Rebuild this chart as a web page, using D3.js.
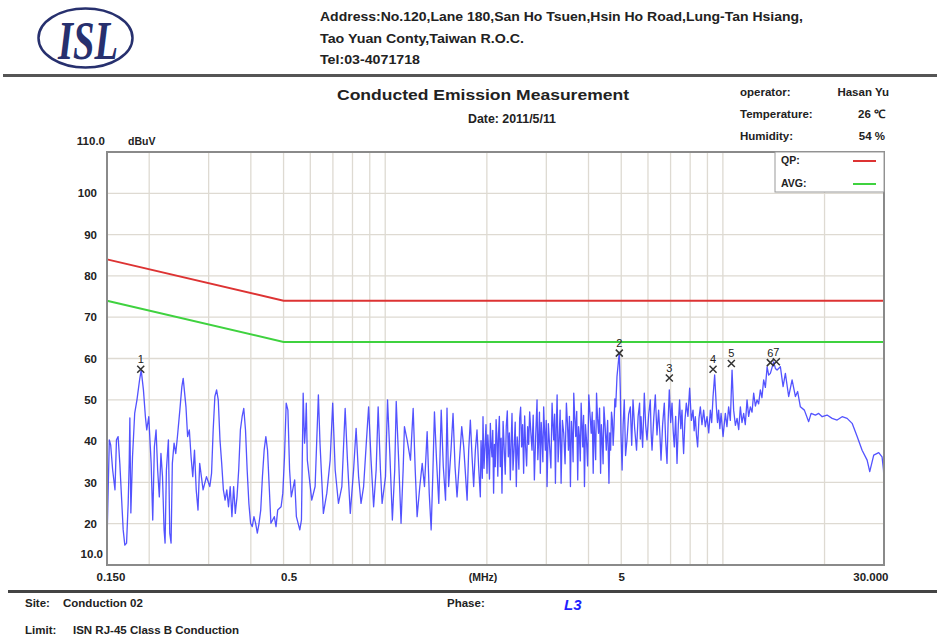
<!DOCTYPE html>
<html>
<head>
<meta charset="utf-8">
<script src="https://cdn.jsdelivr.net/npm/d3@7"></script>
<style>
  body { margin: 0; background: #fff; }
  svg text { font-family: "Liberation Sans", Arial, sans-serif; fill: #222; }
</style>
</head>
<body>
<svg id="chart" width="937" height="639"></svg>
<script>
// header / footer texts
const addressLines = [
    "Address:No.120,Lane 180,San Ho Tsuen,Hsin Ho Road,Lung-Tan Hsiang,",
    "Tao Yuan Conty,Taiwan R.O.C.",
    "Tel:03-4071718",
];
const infoLabels = ["operator:", "Temperature:", "Humidity:"];
const infoValues = ["Hasan Yu", "26 \u2103", "54 %"];

// axes
const yTicks = [20, 30, 40, 50, 60, 70, 80, 90, 100];
const gridFreqs = [0.2, 0.3, 0.4, 0.5, 0.6, 0.7, 0.8, 0.9, 1, 2, 3, 4, 5, 6, 7, 8, 9, 10, 20];
const xTickFreqs = [0.15, 0.5, 5, 30];
const xTickLabels = ["0.150", "0.5", "5", "30.000"];

// limit lines (MHz, dBuV)
const limitFreq = [0.15, 0.5, 30];
const qpLimit = [84, 74, 74];
const avgLimit = [74, 64, 64];

// markers
const markerIds = ["1", "2", "3", "4", "5", "6", "7"];
const markerFreq = [0.1888, 4.934, 6.94, 9.351, 10.594, 13.82, 14.4];
const markerLevel = [57.4, 61.3, 55.3, 57.4, 58.8, 59.0, 59.2];

const tracePoints = [
    [0.150, 15.6], [0.1524, 40.3], [0.1538, 39.1], [0.1559, 33.0], [0.1584, 28.2],
    [0.1600, 40.3], [0.1618, 41.1], [0.1637, 34.6], [0.1656, 26.5], [0.1675, 18.5],
    [0.1694, 14.8], [0.1714, 15.3], [0.1733, 24.9], [0.1745, 34.7], [0.1753, 45.6],
    [0.1765, 22.6], [0.1785, 36.2], [0.1812, 46.8], [0.1840, 50.0], [0.1873, 54.8],
    [0.1894, 57.2], [0.1923, 52.4], [0.1949, 45.9], [0.1967, 42.7], [0.1994, 45.9],
    [0.2027, 34.6], [0.2049, 20.9], [0.2072, 38.6], [0.2096, 42.7], [0.2119, 33.0],
    [0.2143, 26.5], [0.2167, 37.0], [0.2190, 31.4], [0.2214, 18.5], [0.2229, 15.3],
    [0.2249, 33.0], [0.2280, 40.3], [0.2301, 17.7], [0.2322, 15.3], [0.2342, 34.6],
    [0.2370, 39.5], [0.2397, 37.0], [0.2425, 41.1], [0.2465, 47.5], [0.2499, 53.2],
    [0.2522, 55.2], [0.2570, 48.3], [0.2599, 41.1], [0.2630, 42.7], [0.2661, 36.2],
    [0.2692, 31.4], [0.2724, 37.8], [0.2756, 28.2], [0.2790, 23.3], [0.2822, 34.6],
    [0.2855, 31.4], [0.2888, 28.2], [0.2956, 31.4], [0.3024, 29.0], [0.3060, 32.2],
    [0.3094, 42.7], [0.3130, 50.8], [0.3167, 52.4], [0.3203, 50.0], [0.3241, 40.3],
    [0.3279, 34.6], [0.3317, 28.2], [0.3356, 25.7], [0.3395, 28.2], [0.3435, 24.1],
    [0.3475, 29.0], [0.3516, 21.7], [0.3557, 29.0], [0.3598, 22.5], [0.3640, 26.5],
    [0.3682, 33.0], [0.3725, 42.7], [0.3769, 45.9], [0.3812, 47.9], [0.3857, 42.7],
    [0.3901, 33.0], [0.3947, 24.9], [0.3993, 20.1], [0.4039, 19.3], [0.4086, 21.7],
    [0.4133, 20.1], [0.4181, 17.7], [0.4230, 20.1], [0.4279, 23.3], [0.4329, 31.4],
    [0.4380, 37.8], [0.4431, 41.1], [0.4482, 37.8], [0.4534, 29.0], [0.4587, 20.1],
    [0.4694, 21.7], [0.4749, 19.3], [0.4804, 23.3], [0.4917, 24.1], [0.4974, 27.4],
    [0.5032, 36.2], [0.5091, 49.2], [0.5150, 47.5], [0.5210, 33.0], [0.5271, 26.5],
    [0.5394, 30.6], [0.5457, 21.7], [0.5585, 18.5], [0.5649, 20.9], [0.5715, 51.6],
    [0.5770, 39.5], [0.5810, 43.5], [0.5838, 49.2], [0.5880, 35.4], [0.6060, 25.7],
    [0.6200, 29.0], [0.6340, 51.2], [0.6410, 39.5], [0.6560, 22.5], [0.6715, 27.4],
    [0.687, 35.4], [0.699, 49.2], [0.711, 33.0], [0.727, 24.9], [0.744, 29.0],
    [0.761, 47.9], [0.773, 35.4], [0.788, 22.5], [0.806, 33.0], [0.820, 43.1],
    [0.834, 31.4], [0.848, 24.9], [0.863, 29.0], [0.879, 39.5], [0.893, 48.3],
    [0.908, 35.4], [0.924, 24.1], [0.940, 33.0], [0.953, 48.3], [0.968, 33.0],
    [0.979, 24.9], [1.002, 31.4], [1.016, 50.0], [1.032, 37.0], [1.050, 20.9],
    [1.067, 33.0], [1.078, 49.6], [1.096, 35.4], [1.114, 20.1], [1.130, 33.0],
    [1.140, 43.5], [1.161, 40.3], [1.188, 35.4], [1.210, 47.9], [1.227, 33.0],
    [1.243, 21.7], [1.266, 29.0], [1.287, 34.6], [1.307, 29.0], [1.331, 42.3],
    [1.350, 27.4], [1.368, 18.5], [1.383, 31.4], [1.399, 47.1], [1.419, 35.4],
    [1.441, 24.9], [1.465, 47.5], [1.486, 33.8], [1.509, 25.7], [1.524, 48.0],
    [1.541, 29.0], [1.566, 37.8], [1.588, 46.7], [1.610, 33.8], [1.632, 26.5],
    [1.662, 36.2], [1.685, 43.5], [1.708, 38.6], [1.748, 25.7], [1.767, 37.8],
    [1.787, 45.1], [1.808, 36.2], [1.828, 29.0], [1.849, 37.8], [1.870, 42.7],
    [1.891, 33.8], [1.913, 26.5], [1.922, 40.1], [1.930, 36.2], [1.939, 31.0],
    [1.948, 45.9], [1.961, 33.4], [1.975, 38.6], [1.988, 44.0], [2.002, 32.2],
    [2.013, 41.5], [2.024, 37.8], [2.036, 30.8], [2.048, 44.3], [2.059, 39.0],
    [2.071, 36.2], [2.082, 42.6], [2.094, 27.4], [2.106, 39.2], [2.118, 33.8],
    [2.130, 45.2], [2.143, 40.3], [2.155, 31.5], [2.166, 41.9], [2.178, 46.0],
    [2.191, 33.8], [2.204, 40.7], [2.217, 27.4], [2.234, 44.8], [2.252, 37.8],
    [2.267, 32.0], [2.283, 43.5], [2.299, 47.3], [2.315, 36.2], [2.331, 42.0],
    [2.347, 30.6], [2.360, 39.5], [2.374, 46.7], [2.390, 33.0], [2.407, 37.8],
    [2.426, 44.6], [2.445, 29.0], [2.460, 41.0], [2.474, 37.8], [2.488, 33.2],
    [2.501, 45.5], [2.518, 48.2], [2.535, 38.6], [2.552, 44.0], [2.570, 32.2],
    [2.588, 46.1], [2.605, 38.6], [2.623, 34.0], [2.641, 43.5], [2.660, 39.2],
    [2.678, 47.1], [2.700, 42.0], [2.721, 37.8], [2.743, 46.3], [2.765, 30.6],
    [2.790, 41.2], [2.816, 50.0], [2.831, 35.5], [2.847, 40.3], [2.863, 47.0],
    [2.880, 32.2], [2.897, 44.5], [2.914, 40.3], [2.930, 35.0], [2.946, 48.3],
    [2.963, 42.5], [2.980, 37.8], [2.998, 45.0], [3.015, 29.0], [3.042, 44.2],
    [3.069, 38.6], [3.095, 33.5], [3.120, 49.2], [3.138, 44.0], [3.155, 40.3],
    [3.174, 46.5], [3.192, 29.8], [3.210, 43.0], [3.229, 51.2], [3.251, 35.0],
    [3.273, 40.3], [3.296, 47.5], [3.318, 29.8], [3.348, 45.0], [3.378, 41.9],
    [3.409, 34.5], [3.440, 49.2], [3.464, 44.5], [3.488, 37.8], [3.512, 46.0],
    [3.536, 29.0], [3.560, 44.8], [3.585, 40.3], [3.601, 35.0], [3.617, 51.6],
    [3.641, 46.0], [3.666, 41.1], [3.691, 47.2], [3.716, 30.6], [3.738, 43.5],
    [3.760, 41.1], [3.782, 35.2], [3.804, 49.2], [3.825, 44.0], [3.846, 38.6],
    [3.868, 46.2], [3.891, 29.0], [3.918, 44.0], [3.945, 40.3], [3.976, 34.0],
    [4.008, 51.2], [4.041, 46.5], [4.074, 41.9], [4.102, 47.0], [4.130, 32.2],
    [4.153, 45.0], [4.176, 41.1], [4.200, 35.5], [4.225, 51.6], [4.254, 45.5],
    [4.283, 41.9], [4.313, 48.0], [4.343, 32.2], [4.368, 44.0], [4.393, 40.3],
    [4.418, 34.5], [4.443, 48.3], [4.480, 43.5], [4.516, 37.8], [4.557, 45.0],
    [4.598, 29.8], [4.624, 42.0], [4.651, 37.8], [4.678, 47.0], [4.706, 45.1],
    [4.732, 39.0], [4.759, 43.5], [4.787, 50.2], [4.815, 48.3], [4.857, 55.6],
    [4.934, 61.5], [4.968, 52.4], [4.990, 41.9], [5.030, 33.0], [5.065, 44.0],
    [5.105, 50.0], [5.150, 36.5], [5.20, 40.3], [5.26, 46.5], [5.32, 48.3],
    [5.37, 39.0], [5.418, 50.0], [5.48, 43.0], [5.55, 37.8], [5.61, 46.0],
    [5.667, 49.2], [5.695, 40.5], [5.722, 45.9], [5.785, 38.5], [5.852, 51.6],
    [5.905, 44.0], [5.960, 40.3], [6.030, 46.5], [6.096, 50.0], [6.130, 42.0],
    [6.168, 37.8], [6.240, 45.5], [6.308, 51.2], [6.380, 41.5], [6.451, 47.5],
    [6.505, 42.0], [6.558, 35.4], [6.630, 44.0], [6.707, 49.2], [6.770, 40.0],
    [6.832, 34.6], [6.885, 45.0], [6.940, 52.4], [7.005, 44.5], [7.069, 49.2],
    [7.125, 42.5], [7.181, 38.6], [7.247, 46.0], [7.314, 34.6], [7.380, 44.0],
    [7.445, 50.0], [7.505, 43.0], [7.568, 47.5], [7.610, 41.0], [7.651, 37.0],
    [7.720, 45.0], [7.793, 49.2], [7.880, 46.0], [7.971, 52.8], [8.065, 45.0],
    [8.158, 47.5], [8.220, 42.5], [8.287, 45.9], [8.350, 41.5], [8.418, 38.6],
    [8.495, 45.5], [8.575, 48.3], [8.670, 44.0], [8.770, 47.5], [8.870, 43.5],
    [8.976, 45.9], [9.080, 42.0], [9.180, 47.5], [9.265, 44.5], [9.351, 50.8],
    [9.454, 56.0], [9.563, 48.3], [9.640, 44.5], [9.715, 47.5], [9.795, 43.0],
    [9.876, 46.7], [10.011, 41.1], [10.169, 46.7], [10.28, 43.5], [10.40, 48.3],
    [10.52, 45.0], [10.645, 57.2], [10.762, 47.5], [10.89, 43.8], [11.014, 45.5],
    [11.14, 42.8], [11.265, 48.3], [11.39, 44.5], [11.522, 46.7], [11.65, 44.0],
    [11.79, 50.0], [11.92, 46.0], [12.06, 48.3], [12.20, 47.0], [12.335, 51.6],
    [12.48, 48.5], [12.62, 50.0], [12.76, 49.0], [12.91, 52.4], [13.05, 50.5],
    [13.205, 54.8], [13.36, 53.0], [13.52, 58.0], [13.665, 56.0], [13.824, 56.4],
    [14.139, 59.2], [14.303, 57.6], [14.47, 57.2], [14.80, 58.0], [15.076, 53.2],
    [15.313, 56.4], [15.66, 50.8], [16.03, 54.8], [16.395, 50.8], [16.65, 52.0],
    [16.96, 48.3], [17.43, 47.5], [17.95, 44.7], [18.25, 46.7], [18.79, 46.3],
    [19.22, 46.7], [19.68, 45.9], [20.35, 46.3], [21.06, 45.5], [21.79, 45.1],
    [22.55, 45.9], [23.33, 45.5], [24.14, 44.3], [24.98, 41.1], [25.84, 37.8],
    [26.74, 35.4], [27.22, 32.6], [27.97, 36.6], [28.94, 37.2], [29.6, 36.2],
    [29.9, 33.0], [30.0, 30.2],
];

const svg = d3.select("#chart");
const plotLeft = 107, plotRight = 884, plotTop = 152, plotBottom = 565;

const x = d3.scaleLog().domain([0.15, 30]).range([plotLeft, plotRight]);
const y = d3.scaleLinear().domain([10, 110]).range([plotBottom, plotTop]);

// ---- header ----
svg.append("ellipse")
    .attr("cx", 85.5).attr("cy", 38)
    .attr("rx", 47).attr("ry", 29.5)
    .attr("fill", "none")
    .attr("stroke", "#27306e")
    .attr("stroke-width", 2.5);
svg.append("text")
    .attr("x", 58).attr("y", 59)
    .attr("textLength", 60)
    .attr("lengthAdjust", "spacingAndGlyphs")
    .style("font-family", "'Liberation Serif', 'DejaVu Serif', serif")
    .style("font-weight", "bold")
    .style("font-style", "italic")
    .style("font-size", "54px")
    .style("fill", "#27306e")
    .text("ISL");

const addrWidths = [483, 204, 100];
svg.append("g")
    .selectAll("text")
    .data(addressLines)
    .enter()
    .append("text")
    .attr("x", 320)
    .attr("y", (d, i) => 21 + i * 21.5)
    .attr("textLength", (d, i) => addrWidths[i])
    .attr("lengthAdjust", "spacingAndGlyphs")
    .style("font-size", "12px")
    .style("font-weight", "bold")
    .text((d) => d);

svg.append("line")
    .attr("x1", 3).attr("x2", 937)
    .attr("y1", 75.5).attr("y2", 75.5)
    .attr("stroke", "#555")
    .attr("stroke-width", 3);

svg.append("text")
    .attr("x", 337).attr("y", 100)
    .attr("textLength", 292)
    .attr("lengthAdjust", "spacingAndGlyphs")
    .style("font-size", "15px")
    .style("font-weight", "bold")
    .text("Conducted Emission Measurement");
svg.append("text")
    .attr("x", 468).attr("y", 123)
    .attr("textLength", 88)
    .attr("lengthAdjust", "spacingAndGlyphs")
    .style("font-size", "12px")
    .style("font-weight", "bold")
    .text("Date: 2011/5/11");

const info = svg.append("g");
info.selectAll("text.lab")
    .data(infoLabels)
    .enter()
    .append("text")
    .attr("class", "lab")
    .attr("x", 740)
    .attr("y", (d, i) => 96 + i * 22)
    .style("font-size", "11.5px")
    .style("font-weight", "bold")
    .text((d) => d);
info.selectAll("text.val")
    .data(infoValues)
    .enter()
    .append("text")
    .attr("class", "val")
    .attr("x", (d, i) => (i == 0 ? 889 : 885))
    .attr("y", (d, i) => 96 + i * 22)
    .attr("text-anchor", "end")
    .style("font-size", "11.5px")
    .style("font-weight", "bold")
    .text((d) => d);

// ---- grid ----
const grid = svg.append("g").attr("class", "grid");
grid.selectAll("line.v")
    .data(gridFreqs)
    .enter()
    .append("line")
    .attr("class", "v")
    .attr("x1", (d) => x(d)).attr("x2", (d) => x(d))
    .attr("y1", plotTop).attr("y2", plotBottom)
    .attr("stroke", "#dedad2")
    .attr("stroke-width", 1.3);
grid.selectAll("line.h")
    .data(yTicks)
    .enter()
    .append("line")
    .attr("class", "h")
    .attr("x1", plotLeft).attr("x2", plotRight)
    .attr("y1", (d) => y(d)).attr("y2", (d) => y(d))
    .attr("stroke", "#dedad2")
    .attr("stroke-width", 1.3);

// ---- axes labels ----
const yAxis = svg.append("g")
    .attr("transform", `translate(97,0)`)
    .call(d3.axisLeft(y).tickValues(yTicks).tickSize(0).tickPadding(0).tickFormat(d3.format("d")));
yAxis.select(".domain").remove();
yAxis.selectAll("text")
    .style("font-size", "11.5px")
    .style("font-weight", "bold")
    .style("font-family", "'Liberation Sans', Arial, sans-serif")
    .attr("fill", "#222");

svg.append("text")
    .attr("x", 105).attr("y", y(110) - 7)
    .attr("text-anchor", "end")
    .style("font-size", "11.5px").style("font-weight", "bold")
    .text("110.0");
svg.append("text")
    .attr("x", 128).attr("y", y(110) - 7)
    .style("font-size", "10.5px").style("font-weight", "bold")
    .text("dBuV");
svg.append("text")
    .attr("x", 103).attr("y", y(10) - 7)
    .attr("text-anchor", "end")
    .style("font-size", "11.5px").style("font-weight", "bold")
    .text("10.0");

const xAxis = svg.append("g")
    .attr("transform", `translate(0,${plotBottom + 8})`)
    .call(d3.axisBottom(x).tickValues(xTickFreqs).tickSize(0).tickPadding(0)
        .tickFormat((d, i) => xTickLabels[i]));
xAxis.select(".domain").remove();
xAxis.selectAll("text")
    .style("font-size", "11.5px")
    .style("font-weight", "bold")
    .style("font-family", "'Liberation Sans', Arial, sans-serif")
    .attr("fill", "#222")
    .attr("text-anchor", (d, i) => (i == 0 || i == 1 ? "start" : i == 3 ? "end" : "middle"))
    .attr("dx", (d, i) => [-11, -3, 0, 4][i]);
svg.append("text")
    .attr("x", 483).attr("y", plotBottom + 16)
    .attr("text-anchor", "middle")
    .style("font-size", "10.5px").style("font-weight", "bold")
    .text("(MHz)");

// ---- limits ----
const line = d3.line().x((d) => x(d[0])).y((d) => y(d[1]));
svg.append("path")
    .datum(limitFreq.map((f, i) => [f, qpLimit[i]]))
    .attr("d", line)
    .attr("fill", "none")
    .attr("stroke", "#dd3333")
    .attr("stroke-width", 2);
svg.append("path")
    .datum(limitFreq.map((f, i) => [f, avgLimit[i]]))
    .attr("d", line)
    .attr("fill", "none")
    .attr("stroke", "#3fd23f")
    .attr("stroke-width", 2);

// ---- trace ----
svg.append("path")
    .datum(tracePoints)
    .attr("d", line)
    .attr("fill", "none")
    .attr("stroke", "#3535ff")
    .attr("stroke-opacity", 0.85)
    .attr("stroke-width", 1.3)
    .attr("stroke-linejoin", "round");

// ---- markers ----
const mk = svg.append("g")
    .selectAll("g")
    .data(markerIds)
    .enter()
    .append("g")
    .attr("transform", (d, i) => `translate(${x(markerFreq[i])},${y(markerLevel[i])})`);
mk.append("path")
    .attr("d", "M-3.5,-3.5L3.5,3.5M-3.5,3.5L3.5,-3.5")
    .attr("stroke", "#333")
    .attr("stroke-width", 1.5);
mk.append("text")
    .attr("y", -6)
    .attr("text-anchor", "middle")
    .style("font-size", "11px")
    .text((d) => d);

// ---- frame + legend ----
svg.append("rect")
    .attr("x", plotLeft).attr("y", plotTop)
    .attr("width", plotRight - plotLeft).attr("height", plotBottom - plotTop)
    .attr("fill", "none")
    .attr("stroke", "#8a8a8a")
    .attr("stroke-width", 2);

const legend = svg.append("g");
legend.append("rect")
    .attr("x", 775).attr("y", plotTop)
    .attr("width", plotRight - 775).attr("height", 40)
    .attr("fill", "#fff")
    .attr("stroke", "#9a9a9a")
    .attr("stroke-width", 1);
const legendNames = ["QP:", "AVG:"];
const legendColors = ["#dd3333", "#3fd23f"];
legend.selectAll("text")
    .data(legendNames)
    .enter()
    .append("text")
    .attr("x", 781)
    .attr("y", (d, i) => 164 + i * 23)
    .style("font-size", "10.5px").style("font-weight", "bold")
    .text((d) => d);
legend.selectAll("line")
    .data(legendColors)
    .enter()
    .append("line")
    .attr("x1", 853).attr("x2", 876)
    .attr("y1", (d, i) => 161 + i * 23).attr("y2", (d, i) => 161 + i * 23)
    .attr("stroke", (d) => d)
    .attr("stroke-width", 2);

// ---- footer ----
svg.append("line")
    .attr("x1", 8).attr("x2", 937)
    .attr("y1", 591.5).attr("y2", 591.5)
    .attr("stroke", "#444")
    .attr("stroke-width", 3);
const footer = [
    ["Site:", 25, 607], ["Conduction 02", 63, 607],
    ["Phase:", 447, 607],
    ["Limit:", 25, 634], ["ISN RJ-45 Class B Conduction", 73, 634],
];
svg.append("g")
    .selectAll("text")
    .data(footer)
    .enter()
    .append("text")
    .attr("x", (d) => d[1]).attr("y", (d) => d[2])
    .style("font-size", "11.5px").style("font-weight", "bold")
    .text((d) => d[0]);
svg.append("text").attr("x", 564).attr("y", 610)
    .style("font-size", "15px").style("font-weight", "bold").style("font-style", "italic")
    .style("fill", "#1f1fff")
    .text("L3");
</script>
</body>
</html>
